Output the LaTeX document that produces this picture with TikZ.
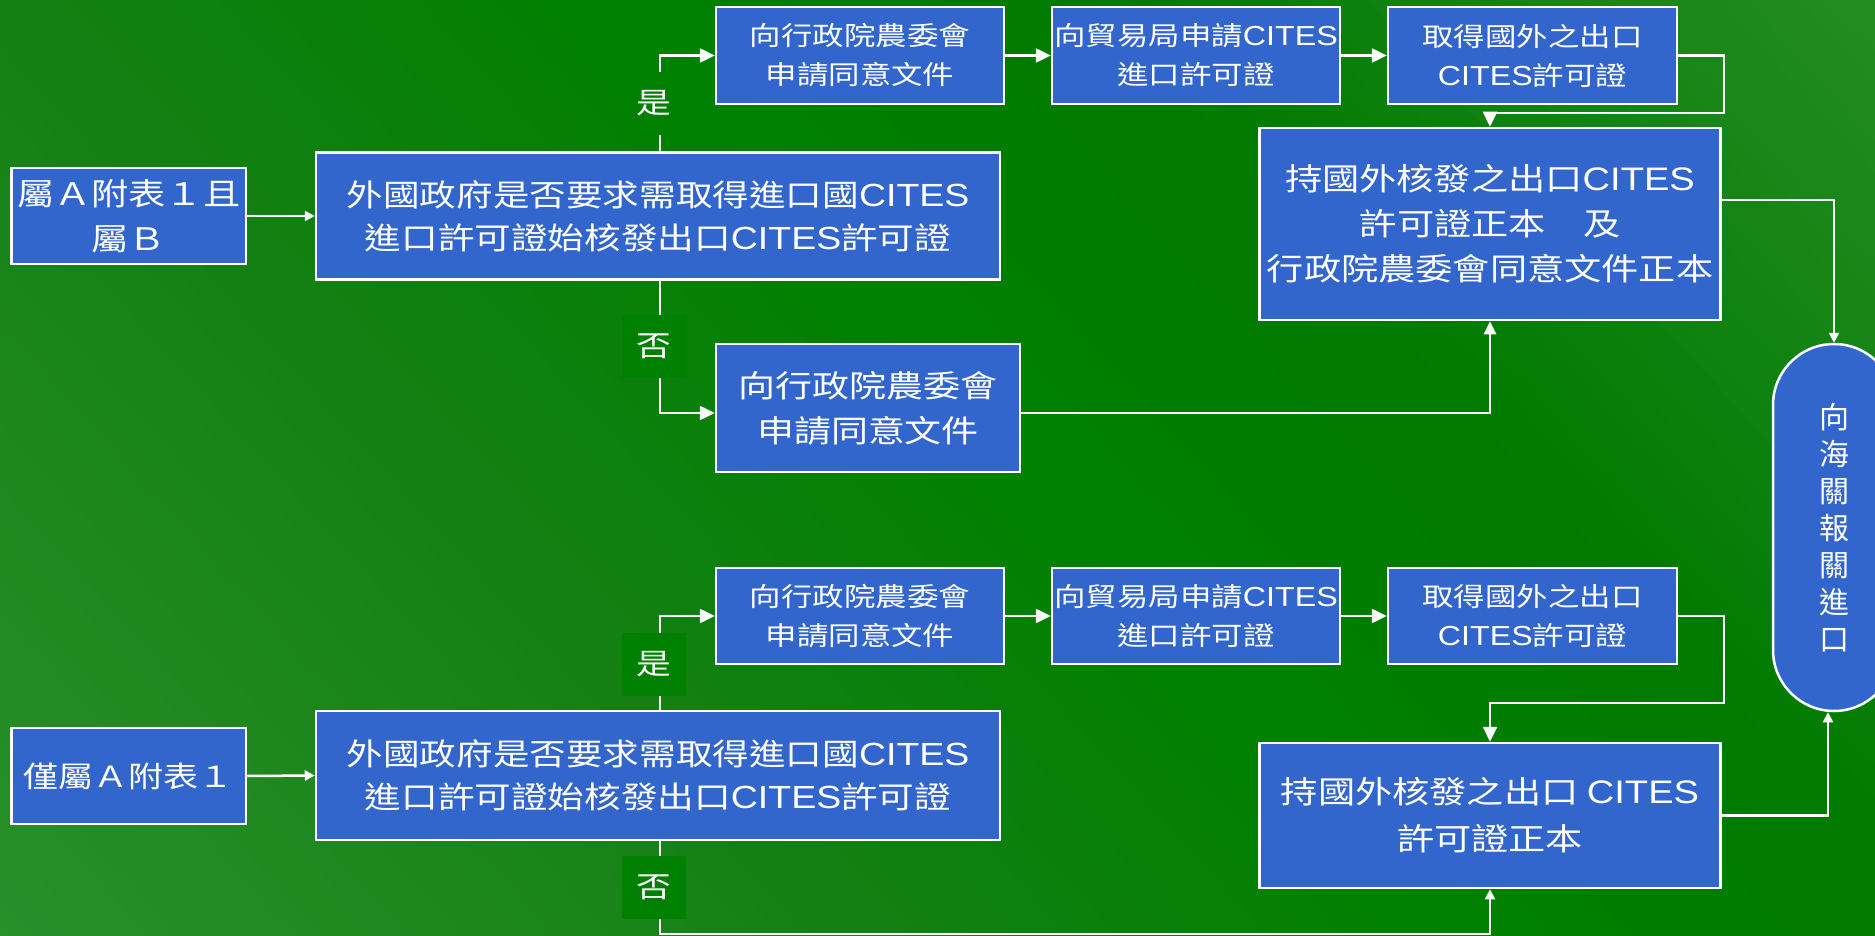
\documentclass[tikz,border=0pt]{standalone}
\usepackage{fontspec}
\setmainfont{Noto Sans CJK TC}[FakeStretch=1.2]
\newfontfamily\latf{Liberation Sans}[Scale=1.05,FakeStretch=1.17]
\newfontfamily\cjkv{Noto Sans CJK TC}
\usetikzlibrary{arrows.meta}
\newcommand\CIT{{\latf CITES}}
\newcommand\fs[2]{\fontsize{#1}{#2}\selectfont}
\definecolor{boxblue}{RGB}{51,102,204}
\definecolor{lblgreen}{RGB}{0,128,0}
\definecolor{bgLa}{RGB}{48,150,50}
\definecolor{bgMa}{RGB}{20,128,20}
\definecolor{bgDa}{RGB}{0,128,0}
\definecolor{bgDb}{RGB}{0,122,0}
\definecolor{bgLb}{RGB}{48,146,48}
% background band: #1 start, #2 end, #3 steps, #4 colour at start, #5 colour at end
\newcommand\bgband[5]{%
  \foreach \k in {1,...,#3}{%
    \pgfmathsetmacro\stp{(#2-(#1))/#3}%
    \pgfmathsetmacro\aa{#1+\stp*(\k-1)}%
    \pgfmathsetmacro\bb{\aa+\stp+1.5}%
    \pgfmathsetmacro\pp{100*(\k-0.5)/#3}%
    \fill[#5!\pp!#4]
      ({1225+\aa*0.7403-1008.5},{468-\aa*0.6723-1110.5}) --
      ({1225+\bb*0.7403-1008.5},{468-\bb*0.6723-1110.5}) --
      ({1225+\bb*0.7403+1008.5},{468-\bb*0.6723+1110.5}) --
      ({1225+\aa*0.7403+1008.5},{468-\aa*0.6723+1110.5}) -- cycle;
  }%
}
\begin{document}
\begin{tikzpicture}[x=1pt,y=-1pt,
  box/.style={draw=white, line width=2.5pt, fill=boxblue, text=white,
    inner sep=0pt, align=center},
  lbl/.style={fill=lblgreen, text=white, inner sep=0pt,
    minimum width=64pt, minimum height=63pt, font=\fs{29}{35}},
  conn/.style={draw=white, line width=2.5pt},
  arrB/.style={conn, -{Triangle[length=15pt,width=14pt]}},
  arrM/.style={conn, -{Triangle[length=13pt,width=12pt]}},
  arrS/.style={conn, -{Triangle[length=10pt,width=10pt]}}]
\useasboundingbox (0,0) rectangle (1875,936);
\clip (0,0) rectangle (1875,936);
% background gradient
\bgband{-1450}{-600}{40}{bgLa}{bgMa}
\bgband{-600}{-150}{24}{bgMa}{bgDa}
\bgband{-150}{200}{18}{bgDa}{bgDb}
\bgband{200}{1000}{40}{bgDb}{bgLb}

% ---------- upper section ----------
\node[box, minimum width=234.5pt, minimum height=96pt, font=\fs{31}{45}] (bA) at (128.75,216) {屬Ａ附表１且\\屬Ｂ};
\node[box, minimum width=684pt, minimum height=127pt, font=\fs{30.5}{43}] (dec1) at (658,216)
  {外國政府是否要求需取得進口國\CIT\\進口許可證始核發出口\CIT 許可證};
\node[box, minimum width=288pt, minimum height=97pt, font=\fs{26.2}{39}] (t1a) at (860,55.5) {向行政院農委會\\申請同意文件};
\node[box, minimum width=288pt, minimum height=97pt, font=\fs{26.2}{39}] (t1b) at (1196,55.5) {向貿易局申請\CIT\\進口許可證};
\node[box, minimum width=289pt, minimum height=97pt, font=\fs{26.2}{39}] (t1c) at (1532.5,55.5) {取得國外之出口\\\CIT 許可證};
\node[box, minimum width=461pt, minimum height=192pt, font=\fs{31}{45}] (big1) at (1490,224)
  {持國外核發之出口\CIT\\許可證正本　及\\行政院農委會同意文件正本};
\node[box, minimum width=304pt, minimum height=128pt, font=\fs{30.8}{45}] (no1) at (868,408) {向行政院農委會\\申請同意文件};
\node[box, rounded corners=61pt, minimum width=122pt, minimum height=367pt, font=\cjkv\fs{30}{37}] (oval) at (1834,527.5)
  {向\\海\\關\\報\\關\\進\\口};

% ---------- lower section ----------
\node[box, minimum width=234.5pt, minimum height=96pt, font=\fs{29.2}{45}] (bB) at (128.75,776) {僅屬Ａ附表１};
\node[box, minimum width=684pt, minimum height=129pt, font=\fs{30.5}{43}] (dec2) at (658,775.5)
  {外國政府是否要求需取得進口國\CIT\\進口許可證始核發出口\CIT 許可證};
\node[box, minimum width=288pt, minimum height=96pt, font=\fs{26.2}{39}] (t2a) at (860,616) {向行政院農委會\\申請同意文件};
\node[box, minimum width=288pt, minimum height=96pt, font=\fs{26.2}{39}] (t2b) at (1196,616) {向貿易局申請\CIT\\進口許可證};
\node[box, minimum width=289pt, minimum height=96pt, font=\fs{26.2}{39}] (t2c) at (1532.5,616) {取得國外之出口\\\CIT 許可證};
\node[box, minimum width=461pt, minimum height=145pt, font=\fs{31}{47}] (big2) at (1490,815.5)
  {持國外核發之出口 \CIT\\許可證正本};

% ---------- connectors ----------
\coordinate (v) at (660,0);
\coordinate (k1) at (1724,113);
\coordinate (k2) at (1724,703);
\coordinate (b2) at (1490,934);

\draw[arrS] (bA.east) -- (dec1.west);
\draw[arrB] (dec1.north -| v) |- (t1a.west);
\draw[arrB] (dec1.south -| v) |- ([yshift=-5pt]no1.west);
\draw[arrB] (t1a.east) -- (t1b.west);
\draw[arrB] (t1b.east) -- (t1c.west);
\draw[arrB] (t1c.east) -| (k1) -| (big1.north);
\draw[arrM] ([yshift=-5pt]no1.east) -| (big1.south);
\draw[arrS] ([yshift=24pt]big1.east) -| (oval.north);

\draw[arrS] (bB.east) -- (dec2.west);
\draw[arrB] (dec2.north -| v) |- (t2a.west);
\draw[arrS] (dec2.south -| v) |- (b2) -- (big2.south);
\draw[arrB] (t2a.east) -- (t2b.west);
\draw[arrB] (t2b.east) -- (t2c.west);
\draw[arrB] (t2c.east) -| (k2) -| (big2.north);
\draw[arrS] (big2.east) -| ([xshift=-6pt]oval.south);

% ---------- branch labels ----------
\node[lbl] (yes1) at (654,103.5) {是};
\node[lbl] (no1l) at (654,346.5) {否};
\node[lbl] (yes2) at (654,664) {是};
\node[lbl] (no2l) at (654,887.5) {否};
\end{tikzpicture}
\end{document}
